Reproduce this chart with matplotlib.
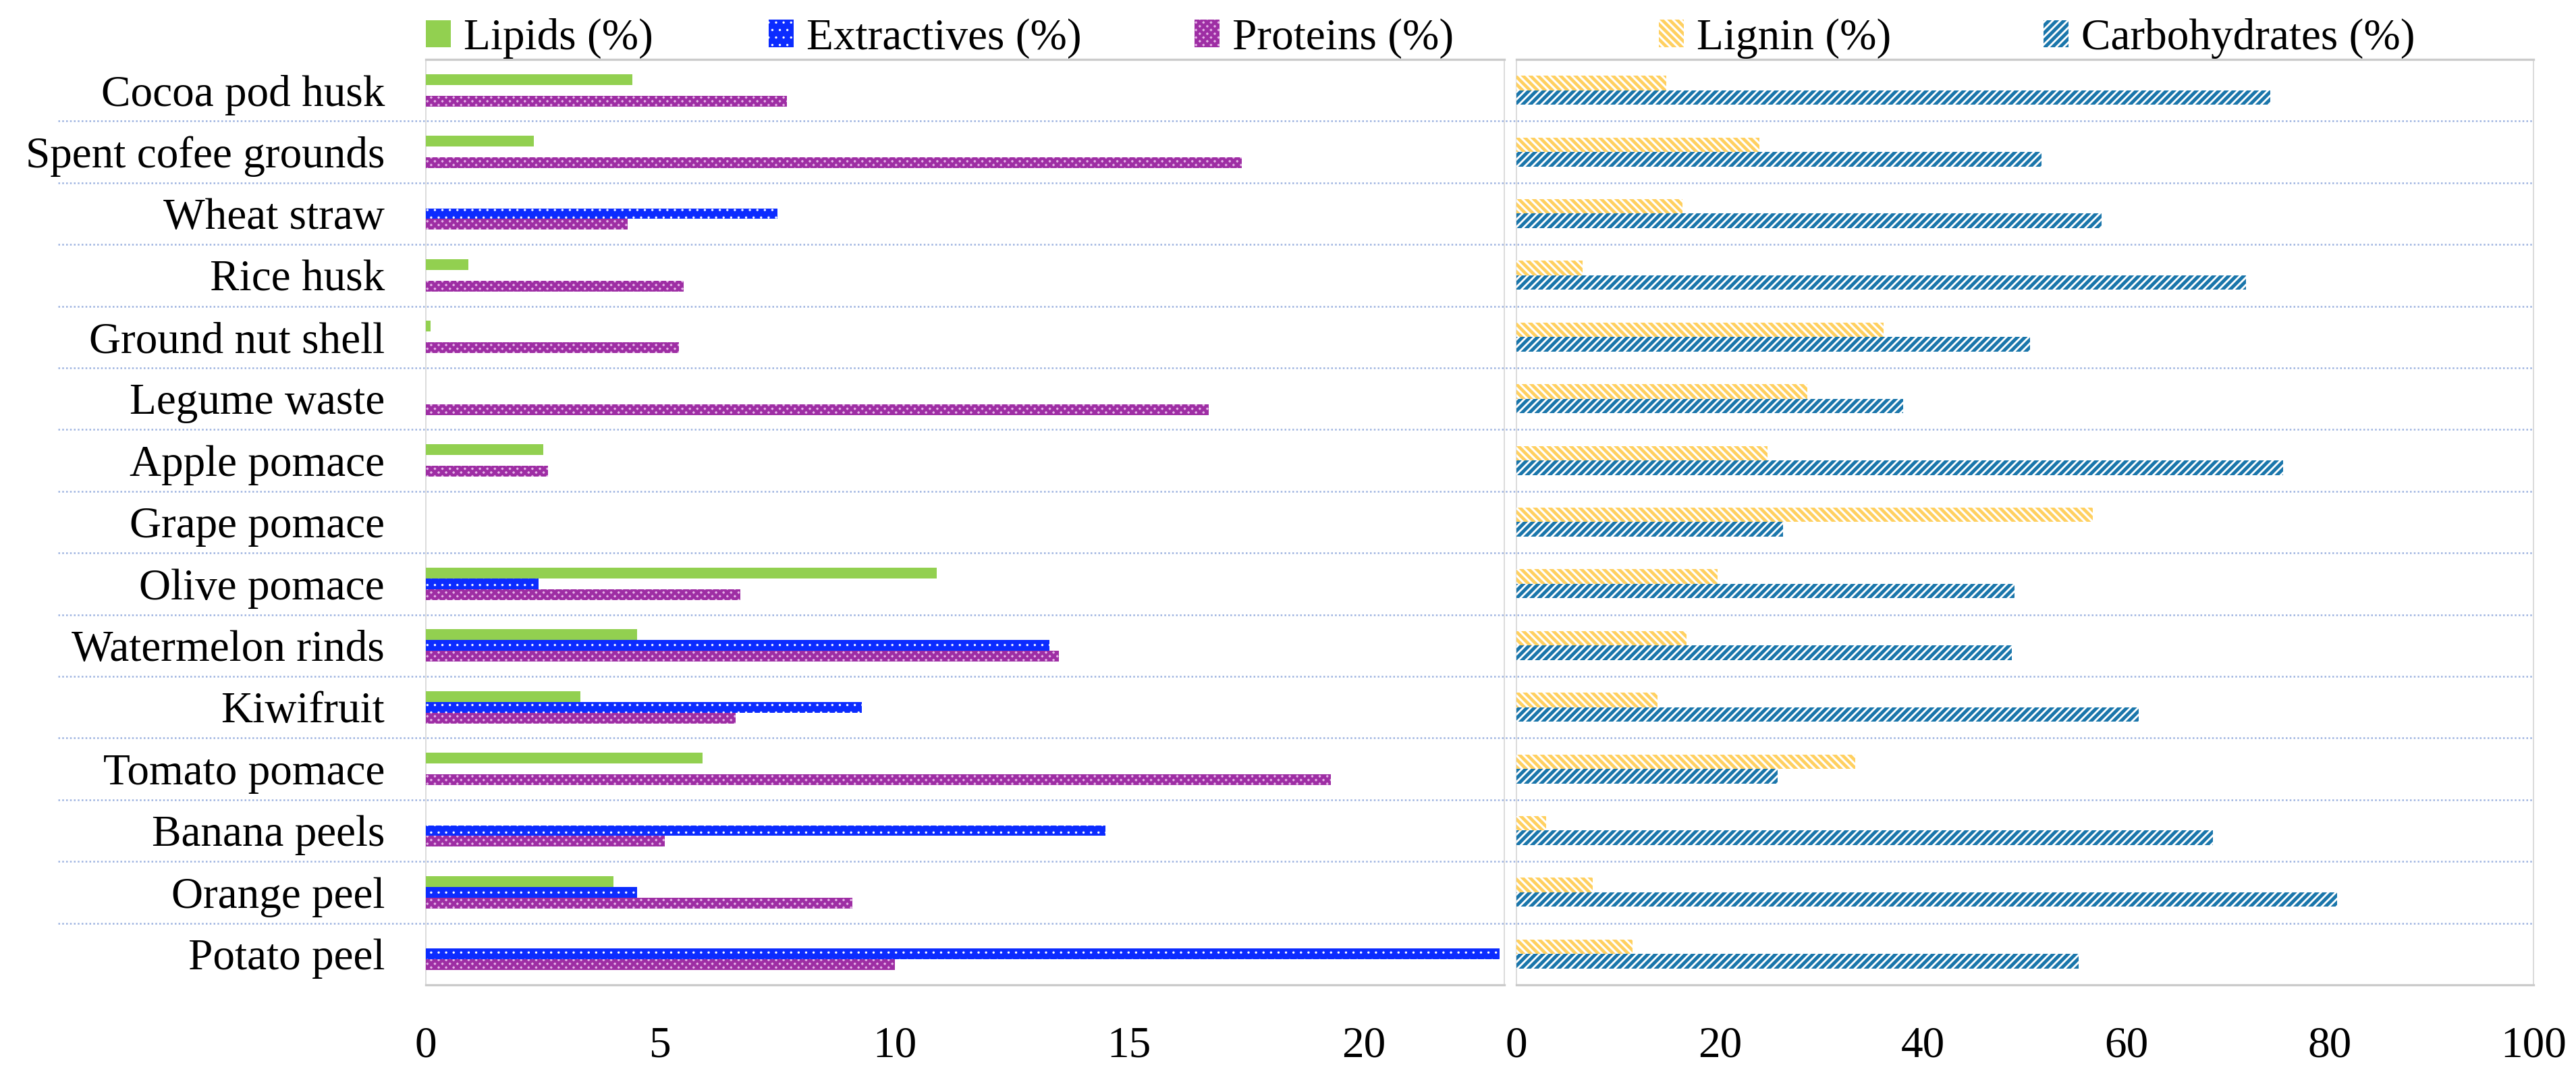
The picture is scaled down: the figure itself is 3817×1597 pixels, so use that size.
import numpy as np
import matplotlib
matplotlib.use('Agg')
import matplotlib.pyplot as plt
from matplotlib.lines import Line2D
from matplotlib.patches import Patch
from matplotlib.transforms import blended_transform_factory

SERIF = ['Liberation Serif', 'DejaVu Serif']
plt.rcParams['font.family'] = SERIF
plt.rcParams['font.serif'] = SERIF

categories = ['Cocoa pod husk', 'Spent cofee grounds', 'Wheat straw', 'Rice husk',
              'Ground nut shell', 'Legume waste', 'Apple pomace', 'Grape pomace',
              'Olive pomace', 'Watermelon rinds', 'Kiwifruit', 'Tomato pomace',
              'Banana peels', 'Orange peel', 'Potato peel']

lipids = [4.4, 2.3, 0, 0.9, 0.1, 0, 2.5, 0, 10.9, 4.5, 3.3, 5.9, 0, 4.0, 0]
extractives = [0, 0, 7.5, 0, 0, 0, 0, 0, 2.4, 13.3, 9.3, 0, 14.5, 4.5, 22.9]
proteins = [7.7, 17.4, 4.3, 5.5, 5.4, 16.7, 2.6, 0, 6.7, 13.5, 6.6, 19.3, 5.1, 9.1, 10.0]
lignin = [14.7, 23.9, 16.3, 6.5, 36.1, 28.6, 24.7, 56.7, 19.8, 16.7, 13.9, 33.3, 2.9, 7.5, 11.4]
carbohydrates = [74.1, 51.6, 57.5, 71.7, 50.5, 38.0, 75.4, 26.2, 49.0, 48.7, 61.2, 25.7, 68.5, 80.7, 55.3]

left_ticks = [0, 5, 10, 15, 20]
right_ticks = [0, 20, 40, 60, 80, 100]

FS = 23.5
W, H = 3817, 1597

# series styles: (label, values, facecolor, hatch, hatch colour, hatch linewidth)
left_series = [
    ('Lipids (%)', lipids, '#92d050', None, '#92d050', 1.0),
    ('Extractives (%)', extractives, '#0c2cff', '...', '#ffffff', 0.4),
    ('Proteins (%)', proteins, '#e6b6e8', 'xxxxxx', '#9e2ea4', 1.7),
]
right_series = [
    ('Lignin (%)', lignin, '#ffffff', '\\' * 6, '#ffd060', 1.7),
    ('Carbohydrates (%)', carbohydrates, '#ffffff', '//////', '#1a76ab', 1.8),
]

fig = plt.figure(figsize=(W / 200, H / 200), dpi=200)
ax_l = fig.add_axes([631 / W, 1 - 1459 / H, 1598 / W, 1371 / H])
ax_r = fig.add_axes([2247 / W, 1 - 1459 / H, 1507 / W, 1371 / H])
ax_r.set_facecolor('none')

n = len(categories)
ypos = np.arange(n)[::-1]


def set_hlw(p, lw):
    try:
        p.set_hatch_linewidth(lw)
    except AttributeError:
        pass


def draw_bars(ax, series, bh, offs):
    for (label, vals, fc, hatch, hc, hlw), off in zip(series, offs):
        with plt.rc_context({'hatch.linewidth': hlw}):
            bars = ax.barh(ypos + off, vals, height=bh, color=fc, edgecolor=hc,
                           linewidth=0, hatch=hatch, zorder=3)
        for b in bars:
            set_hlw(b, hlw)


draw_bars(ax_l, left_series, 0.175, [0.175, 0.0, -0.175])
draw_bars(ax_r, right_series, 0.235, [0.1175, -0.1175])

for ax, ticks, xmax in [(ax_l, left_ticks, 23.0), (ax_r, right_ticks, 100)]:
    ax.set_xlim(0, xmax)
    ax.set_ylim(-0.5, n - 0.5)
    ax.set_xticks(ticks)
    ax.set_xticklabels([str(t) for t in ticks], fontsize=FS, family=SERIF)
    ax.tick_params(axis='x', length=0, pad=22)
    for side in ['left', 'right']:
        ax.spines[side].set_color('#d6d6d6')
        ax.spines[side].set_linewidth(0.6)
    for side in ['top', 'bottom']:
        ax.spines[side].set_color('#cbcbcb')
        ax.spines[side].set_linewidth(1.2)

ax_l.set_yticks(ypos)
ax_l.set_yticklabels(categories, fontsize=FS, family=SERIF)
ax_l.tick_params(axis='y', length=0, pad=22)
ax_r.set_yticks([])

# dotted separators between categories, spanning both panels
trans = blended_transform_factory(fig.transFigure, ax_l.transData)
for b in np.arange(0.5, n - 1, 1.0):
    fig.add_artist(Line2D([86 / W, 3754 / W], [b, b], transform=trans,
                          color='#9db3e0', linewidth=0.9,
                          linestyle=(0, (1, 1.3)), zorder=1))

# legends, one entry each, placed above the panels
legend_x = [631, 1139, 1770, 2458, 3028]
for (label, vals, fc, hatch, hc, hlw), lx in zip(left_series + right_series, legend_x):
    with plt.rc_context({'hatch.linewidth': hlw}):
        handle = Patch(facecolor=fc, edgecolor=hc, hatch=hatch, linewidth=0)
        set_hlw(handle, hlw)
        leg = fig.legend([handle], [label], loc='center left',
                         bbox_to_anchor=(lx / W, 1 - 57 / H), frameon=False,
                         prop={'family': SERIF, 'size': FS},
                         borderpad=0, borderaxespad=0,
                         handlelength=0.56, handleheight=0.58, handletextpad=0.3)
    for h in leg.legend_handles:
        set_hlw(h, hlw)

fig.savefig('out.png', dpi=200, facecolor='white')
